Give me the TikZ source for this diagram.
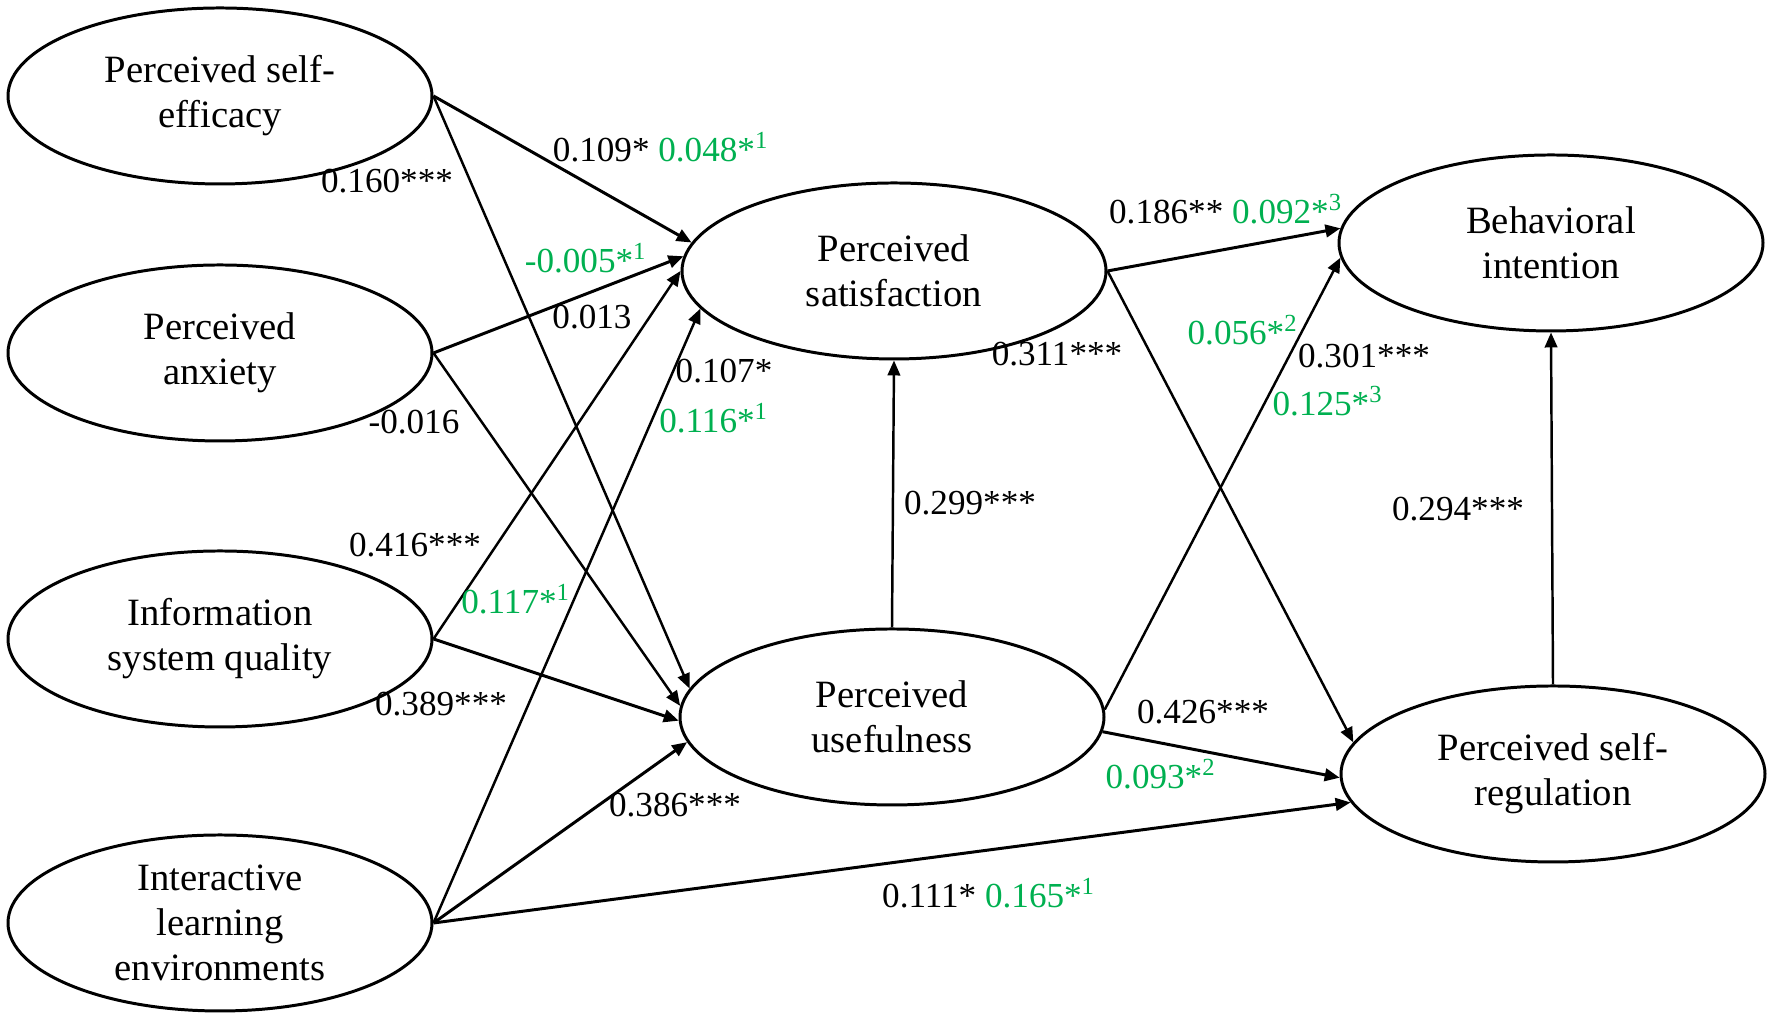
\documentclass[tikz,border=0pt]{standalone}
\usepackage{fontspec}
\setmainfont{Liberation Serif}
\usetikzlibrary{arrows.meta, shapes.geometric}
\newcommand{\grn}[1]{\textcolor{pathgreen}{#1}}

\begin{document}
\begin{tikzpicture}[
    latent/.style={draw, ellipse, line width=0.85pt, minimum width=4.24cm, minimum height=1.76cm, inner sep=0pt, align=center, font=\fontsize{11}{12.8}\selectfont},
    path/.style={-{Triangle[length=1.5mm, width=1.25mm]}, line width=0.85pt},
    thinpath/.style={path, line width=0.7pt},
    coef/.style={inner sep=0pt, font=\fontsize{10}{12}\selectfont}
]
    \definecolor{pathgreen}{RGB}{0, 176, 80}

    \useasboundingbox (0,0) rectangle (17.72,10.2);

    \def\leftx{2.20};

    % Exogenous variables
    \node[latent] (efficacy) at (\leftx,9.24) {Perceived self-\\efficacy};
    \node[latent] (anxiety) at (\leftx,6.67) {Perceived\\anxiety};
    \node[latent] (quality) at (\leftx,3.81) {Information\\system quality};
    \node[latent] (interact) at (\leftx,0.97) {Interactive\\learning\\environments};

    % Mediators and outcomes
    \node[latent] (satisf) at (8.94,7.49) {Perceived\\satisfaction};
    \node[latent] (useful) at (8.92,3.03) {Perceived\\usefulness};
    \node[latent] (intent) at (15.51,7.77) {Behavioral\\intention};
    \node[latent] (regul) at (15.53,2.46) {Perceived self-\\regulation};

    % Paths
    \draw[path] (efficacy.east) -- (satisf.172);
    \draw[thinpath] (efficacy.east) -- (useful.172);
    \draw[path] (anxiety.east) -- (satisf.176);
    \draw[thinpath] (anxiety.east) -- (useful.177);
    \draw[thinpath] (quality.east) -- (satisf.180);
    \draw[path] (quality.east) -- (useful.181);
    \draw[thinpath] (interact.east) -- (satisf.191);
    \draw[path] (interact.east) -- (useful.187);
    \draw[path] (interact.east) -- (regul.188);
    \draw[thinpath] (useful.north) -- (satisf.south);
    \draw[path] (satisf.east) -- (intent.176);
    \draw[thinpath] (satisf.east) -- (regul.171);
    \draw[thinpath] (useful.2) -- (intent.184);
    \draw[path] (useful.-4) -- (regul.181);
    \draw[thinpath] (regul.north) -- (intent.south);

    % Path coefficients
    \node[coef] (c-es) at (6.61,8.73) {0.109* \grn{0.048*\textsuperscript{1}}};
    \node[coef] (c-eu) at (3.87,8.39) {0.160***};
    \node[coef] (c-as1) at (5.86,7.62) {\grn{-0.005*\textsuperscript{1}}};
    \node[coef] (c-as2) at (5.92,7.03) {0.013};
    \node[coef] (c-au) at (4.14,5.98) {-0.016};
    \node[coef] (c-qs1) at (4.15,4.75) {0.416***};
    \node[coef] (c-qs2) at (5.16,4.21) {\grn{0.117*\textsuperscript{1}}};
    \node[coef] (c-qu) at (4.41,3.16) {0.389***};
    \node[coef] (c-is1) at (7.24,6.49) {0.107*};
    \node[coef] (c-is2) at (7.14,6.02) {\grn{0.116*\textsuperscript{1}}};
    \node[coef] (c-iu) at (6.75,2.15) {0.386***};
    \node[coef] (c-ir) at (9.89,1.27) {0.111* \grn{0.165*\textsuperscript{1}}};
    \node[coef] (c-us) at (9.70,5.17) {0.299***};
    \node[coef] (c-sr) at (10.57,6.66) {0.311***};
    \node[coef] (c-si) at (12.26,8.11) {0.186** \grn{0.092*\textsuperscript{3}}};
    \node[coef] (c-ui1) at (12.43,6.90) {\grn{0.056*\textsuperscript{2}}};
    \node[coef] (c-ui2) at (13.64,6.64) {0.301***};
    \node[coef] (c-ui3) at (13.28,6.19) {\grn{0.125*\textsuperscript{3}}};
    \node[coef] (c-ri) at (14.58,5.11) {0.294***};
    \node[coef] (c-ur1) at (12.03,3.08) {0.426***};
    \node[coef] (c-ur2) at (11.61,2.46) {\grn{0.093*\textsuperscript{2}}};
\end{tikzpicture}
\end{document}
